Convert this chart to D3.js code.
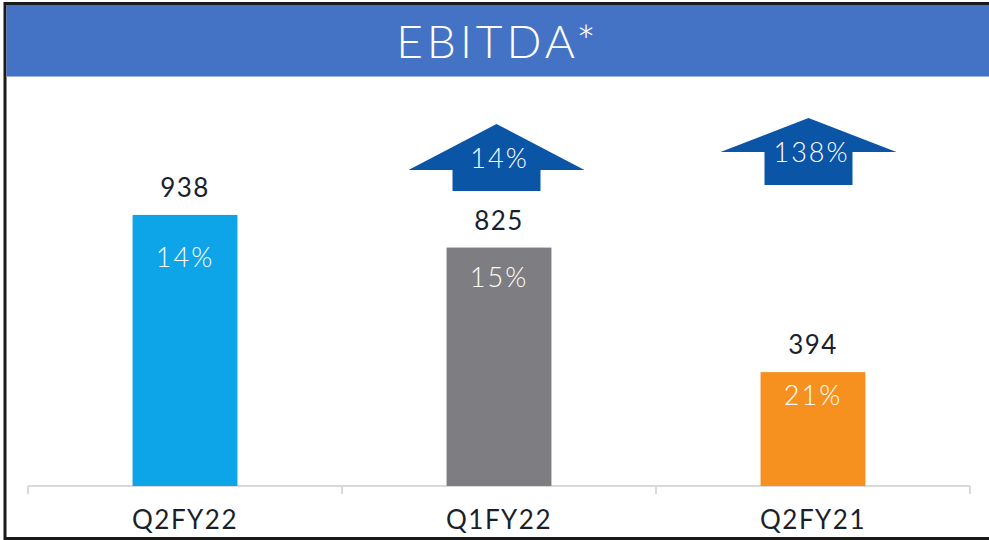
<!DOCTYPE html>
<html><head><meta charset="utf-8">
<script src="https://cdn.jsdelivr.net/npm/d3@7"></script>
<style>html,body{margin:0;padding:0;background:#fff;}svg{display:block;}</style>
</head><body>
<svg id="c" width="989" height="540"></svg>
<script>
const title = "EBITDA*";
const categories = ["Q2FY22", "Q1FY22", "Q2FY21"];
const ebitda = [938, 825, 394];
const margins = [14, 15, 21];           // EBITDA margin %
const growth = [null, 14, 138];         // growth vs each period %
const barColors = ["#0ea5e8", "#7d7d82", "#f6901e"];

const svg = d3.select("#c");
const W = 989, H = 540;
const font = "Lato, 'Open Sans', sans-serif";

// frame
svg.append("rect").attr("x",0).attr("y",0).attr("width",W).attr("height",H).attr("fill","#fff");
svg.append("rect").attr("x",5).attr("y",3.5).attr("width",W+10).attr("height",H-3.5-1.5)
  .attr("fill","none").attr("stroke","#1a1a1a").attr("stroke-width",3);

// title band
svg.append("rect").attr("x",6.5).attr("y",5).attr("width",W-6.5).attr("height",71).attr("fill","#4473c5");
svg.append("line").attr("x1",6.5).attr("x2",W).attr("y1",76.5).attr("y2",76.5).attr("stroke","#9db4e0").attr("stroke-width",1);
svg.append("text").attr("x",498).attr("y",58).attr("text-anchor","middle")
  .attr("font-family",font).attr("font-weight",300).attr("font-size",46).attr("letter-spacing",4)
  .attr("fill","#fff").text(title);

// scales
const x = d3.scaleBand().domain(categories).range([28, 970]).paddingInner(0.666).paddingOuter(0.333);
const y = d3.scaleLinear().domain([0, 1000]).range([486, 197]);

// axis
const gAx = svg.append("g").attr("transform","translate(0,486)");
gAx.append("line").attr("x1",28).attr("x2",970).attr("y1",0).attr("y2",0).attr("stroke","#d9d9d9").attr("stroke-width",2);
const step = x.step();
const bounds = [0,1,2,3].map(i => 28 + i*step);
gAx.selectAll("line.tk").data(bounds).join("line").attr("class","tk")
  .attr("x1",d=>d).attr("x2",d=>d).attr("y1",0).attr("y2",8).attr("stroke","#d9d9d9").attr("stroke-width",2);
gAx.selectAll("text.cat").data(categories).join("text").attr("class","cat")
  .attr("x",d=>x(d)+x.bandwidth()/2).attr("y",43).attr("text-anchor","middle")
  .attr("font-family",font).attr("font-size",26).attr("letter-spacing",1.5).attr("fill","#1b1f2a").text(d=>d);

// bars
svg.selectAll("rect.bar").data(ebitda).join("rect").attr("class","bar")
  .attr("x",(d,i)=>x(categories[i])).attr("width",x.bandwidth())
  .attr("y",d=>y(d)).attr("height",d=>y(0)-y(d)).attr("fill",(d,i)=>barColors[i]);

// value labels
svg.selectAll("text.val").data(ebitda).join("text").attr("class","val")
  .attr("x",(d,i)=>x(categories[i])+x.bandwidth()/2).attr("y",d=>y(d)-18)
  .attr("text-anchor","middle").attr("font-family",font).attr("font-size",26).attr("letter-spacing",1.5)
  .attr("fill","#1b1f2a").text(d=>d);

// margin labels inside bars
const marginDy = [52, 39, 33];
svg.selectAll("text.mg").data(margins).join("text").attr("class","mg")
  .attr("x",(d,i)=>x(categories[i])+x.bandwidth()/2).attr("y",(d,i)=>y(ebitda[i])+marginDy[i])
  .attr("text-anchor","middle").attr("font-family",font).attr("font-weight",300).attr("font-size",27)
  .attr("letter-spacing",2).attr("fill","#fff").text(d=>d+"%");

// growth arrows
const arrowGeom = [null, {tip:124, wing:170, bottom:191, dx:-2.5, ty:168}, {tip:118, wing:152, bottom:185, dx:-4.5, ty:162}];
growth.forEach((g,i)=>{
  if (g == null) return;
  const a = arrowGeom[i];
  const cx = x(categories[i]) + x.bandwidth()/2 + a.dx;
  const pts = [[cx,a.tip],[cx+88,a.wing],[cx+44,a.wing],[cx+44,a.bottom],[cx-44,a.bottom],[cx-44,a.wing],[cx-88,a.wing]];
  svg.append("path").attr("d", d3.line()(pts)+"Z").attr("fill","#0b55a7");
  svg.append("text").attr("x",cx+3).attr("y",a.ty).attr("text-anchor","middle")
    .attr("font-family",font).attr("font-weight",300).attr("font-size",27).attr("letter-spacing",2)
    .attr("fill","#fff").text(g+"%");
});
</script>
</body></html>
